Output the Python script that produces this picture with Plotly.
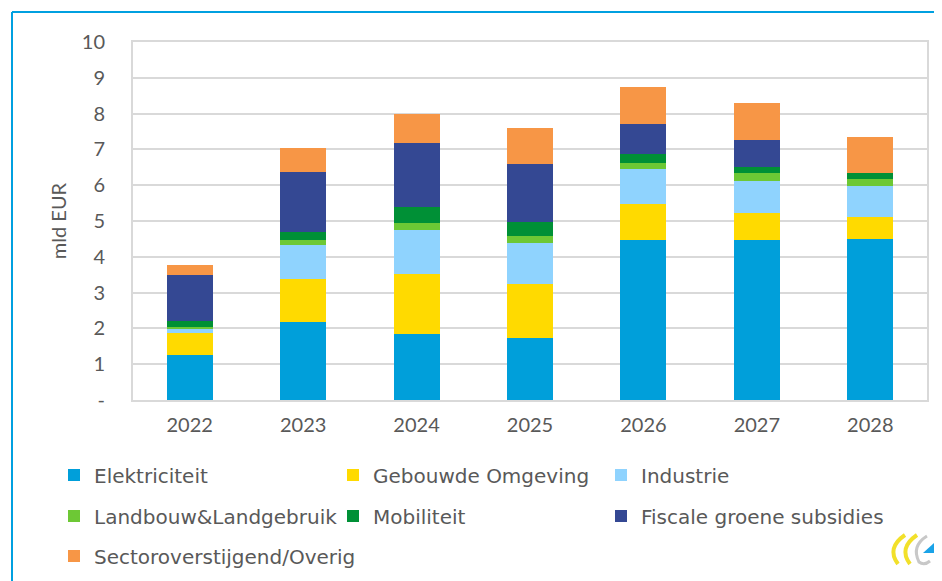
import plotly.graph_objects as go

years = ["2022", "2023", "2024", "2025", "2026", "2027", "2028"]
series_names = ["Elektriciteit", "Gebouwde Omgeving", "Industrie",
                "Landbouw&Landgebruik", "Mobiliteit", "Fiscale groene subsidies",
                "Sectoroverstijgend/Overig"]
elektriciteit = [1.27, 2.17, 1.85, 1.74, 4.47, 4.47, 4.50]
gebouwde_omgeving = [0.61, 1.21, 1.68, 1.50, 1.01, 0.75, 0.62]
industrie = [0.09, 0.94, 1.23, 1.15, 0.96, 0.90, 0.86]
landbouw = [0.08, 0.15, 0.18, 0.19, 0.18, 0.22, 0.20]
mobiliteit = [0.15, 0.21, 0.45, 0.39, 0.25, 0.17, 0.16]
fiscale = [1.30, 1.69, 1.80, 1.62, 0.83, 0.76, 0.00]
sectoroverstijgend = [0.26, 0.68, 0.80, 1.00, 1.05, 1.04, 1.00]
colors = ["#009FDA", "#FFDA00", "#8FD3FE", "#6DC835", "#009036", "#344893", "#F79646"]
y_tickvals = [0, 1, 2, 3, 4, 5, 6, 7, 8, 9, 10]
y_ticktext = ["-", "1", "2", "3", "4", "5", "6", "7", "8", "9", "10"]

values = [elektriciteit, gebouwde_omgeving, industrie, landbouw, mobiliteit,
          fiscale, sectoroverstijgend]

# page is drawn with an 8px body margin: figure coords = page coords - 8
OFF = 8
W, H = 934, 573
ML, MR, MT, MB = 125, 15, 34, 181
PW = W - ML - MR
PH = H - MT - MB


def px(x):
    return (x - OFF - ML) / PW


def py(y):
    return (H - MB - (y - OFF)) / PH


TEXT = "#595959"
GRID = "#D9D9D9"

# legend placement (page px): text start x, row centre y
legend_pos = [(94, 475), (373, 475), (641, 475),
              (94, 516), (373, 516), (641, 516),
              (94, 556)]
legend_ids = ["legend"] + ["legend%d" % i for i in range(2, 8)]

fig = go.Figure()
for name, vals, col, lg in zip(series_names, values, colors, legend_ids):
    fig.add_trace(go.Bar(x=years, y=vals, name=name, marker_color=col,
                         marker_line_width=0, legend=lg, showlegend=True))

legends = {}
for lg, (tx, ty) in zip(legend_ids, legend_pos):
    legends[lg] = dict(x=px(tx - 40), y=py(ty), orientation="h", visible=True,
                       font=dict(family="DejaVu Sans", size=20, color=TEXT),
                       bgcolor="rgba(0,0,0,0)", xanchor="left", yanchor="middle",
                       itemclick=False, itemdoubleclick=False)

shapes = [
    dict(type="line", xref="paper", yref="paper", x0=px(12), x1=px(960), y0=py(12), y1=py(12),
         line=dict(color="#00A0E0", width=2)),
    dict(type="line", xref="paper", yref="paper", x0=px(12), x1=px(12), y0=py(12), y1=py(600),
         line=dict(color="#00A0E0", width=2)),
]


def path(pts):
    s = "M %f,%f" % (px(pts[0][0]), py(pts[0][1]))
    i = 1
    while i < len(pts):
        c, e = pts[i], pts[i + 1]
        s += " Q %f,%f %f,%f" % (px(c[0]), py(c[1]), px(e[0]), py(e[1]))
        i += 2
    return s


shapes += [
    dict(type="path", xref="paper", yref="paper",
         path=path([(905, 535), (886, 548), (898, 564)]),
         line=dict(color="#F2E02A", width=4)),
    dict(type="path", xref="paper", yref="paper",
         path=path([(917, 535), (898, 548), (910, 564)]),
         line=dict(color="#F2E02A", width=4)),
    dict(type="path", xref="paper", yref="paper",
         path=path([(927, 536), (911, 546), (919, 562), (924, 566), (930, 561)]),
         line=dict(color="#C8C8C8", width=3)),
    dict(type="path", xref="paper", yref="paper",
         path="M %f,%f L %f,%f L %f,%f Z" % (px(934), py(543), px(923), py(553), px(934), py(553)),
         fillcolor="#1AA3E8", line=dict(width=0)),
]

fig.update_layout(
    width=W, height=H,
    margin=dict(l=ML, r=MR, t=MT, b=MB, autoexpand=False),
    paper_bgcolor="white", plot_bgcolor="white",
    barmode="stack", bargap=0.594, showlegend=True,
    font=dict(family="Lato", size=20, color=TEXT),
    shapes=shapes,
    xaxis=dict(showgrid=False, showline=True, linecolor=GRID, linewidth=2, mirror=True,
               ticks="", ticklabelstandoff=6,
               tickfont=dict(family="Lato", size=20, color=TEXT)),
    yaxis=dict(range=[0, 10], tickvals=y_tickvals, ticktext=y_ticktext,
               showgrid=True, gridcolor=GRID, gridwidth=2,
               showline=True, linecolor=GRID, linewidth=2, mirror=True,
               zeroline=False, ticks="", ticklabelstandoff=22,
               tickfont=dict(family="Lato", size=20, color=TEXT),
               title=dict(text="mld EUR", standoff=10,
                          font=dict(family="Lato", size=20, color=TEXT))),
    **legends,
)

fig.write_html("out.html")
